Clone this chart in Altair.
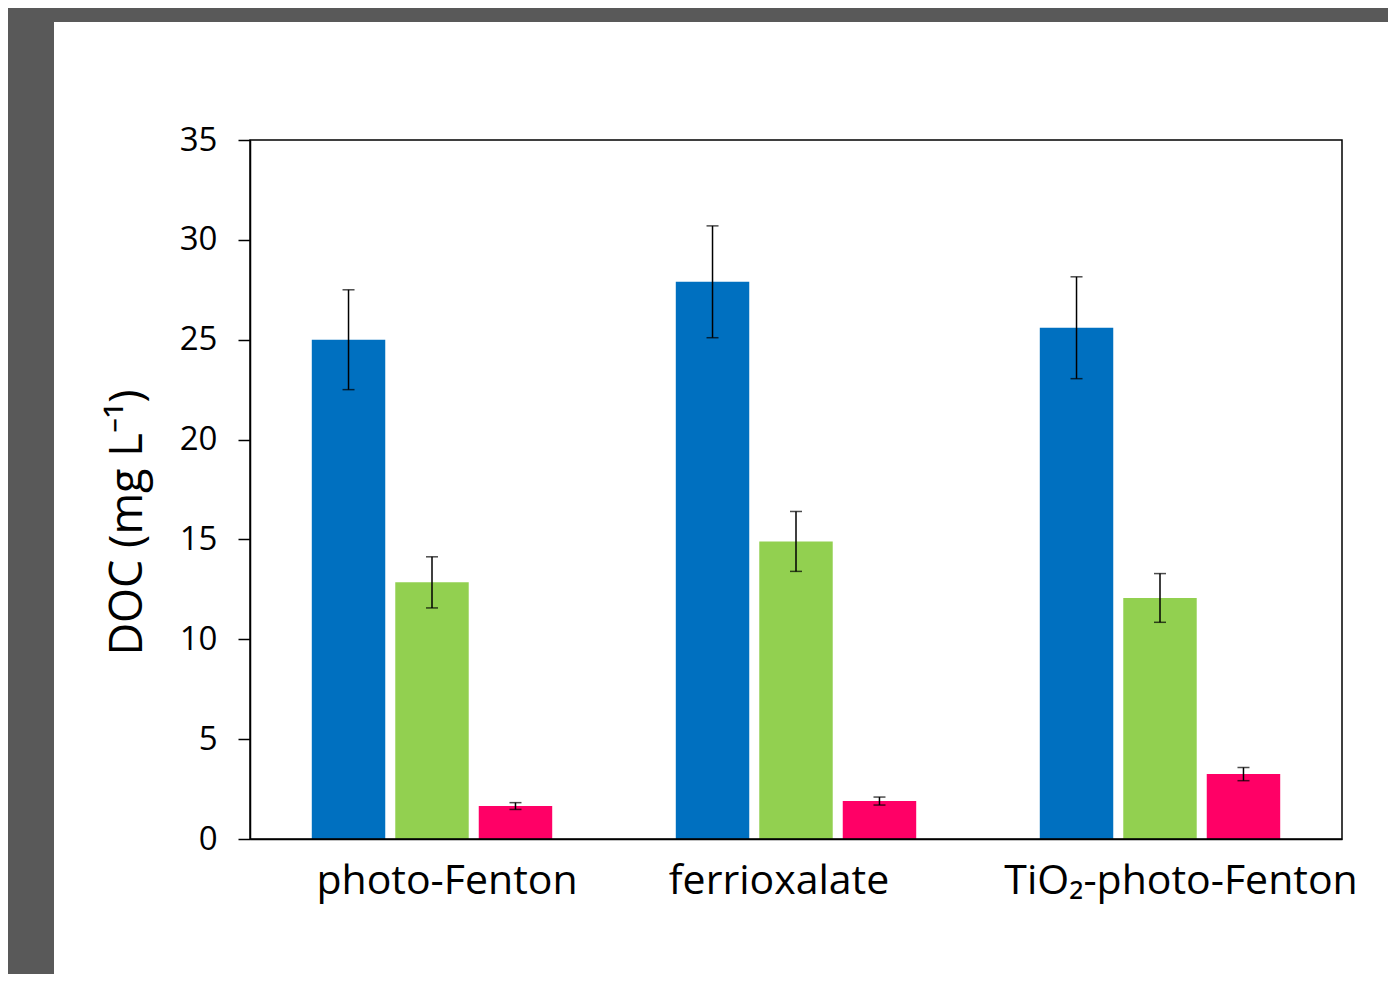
import altair as alt
import pandas as pd

categories = ["photo-Fenton", "ferrioxalate", "TiO₂-photo-Fenton"]
series = ["s1", "s2", "s3"]
values_s1 = [25.0, 27.9, 25.6]
values_s2 = [12.85, 14.9, 12.07]
values_s3 = [1.65, 1.9, 3.25]
err_s1 = [2.5, 2.8, 2.55]
err_s2 = [1.28, 1.5, 1.22]
err_s3 = [0.17, 0.2, 0.33]
colors = ["#0070C0", "#92D050", "#FF0066"]

rows = []
for vals, errs, s in [(values_s1, err_s1, "s1"), (values_s2, err_s2, "s2"), (values_s3, err_s3, "s3")]:
    for c, v, e in zip(categories, vals, errs):
        rows.append({"cat": c, "series": s, "val": v, "lo": v - e, "hi": v + e})
df = pd.DataFrame(rows)

W, H = 1092, 699
FONT = "Open Sans"

x_enc = alt.X(
    "cat:N",
    sort=categories,
    scale=alt.Scale(paddingInner=0.312, paddingOuter=0.156),
    axis=alt.Axis(
        title=None,
        labelFont=FONT,
        labelFontSize=41,
        labelColor="black",
        labelAngle=0,
        labelBaseline="alphabetic",
        labelPadding=54,
        labelLimit=800,
        labelOverlap=False,
        ticks=False,
        tickSize=0,
        domainColor="black",
        domainWidth=1.5,
        zindex=1,
        labelOffset={
            "condition": [
                {"test": "datum.label == 'ferrioxalate'", "value": -17},
                {"test": "datum.label == 'TiO₂-photo-Fenton'", "value": 21},
            ],
            "value": 15,
        },
    ),
)
xoff_enc = alt.XOffset("series:N", sort=series, scale=alt.Scale(paddingInner=0.12, paddingOuter=0.06))
y_scale = alt.Scale(domain=[0, 35], nice=False, zero=True)

one = pd.DataFrame({"a": [0]})
bg = alt.Chart(one).mark_rect(color="white").encode(
    x=alt.value(-196), x2=alt.value(W + 60), y=alt.value(-118), y2=alt.value(H + 150)
)
frame = alt.Chart(one).mark_rect(fill=None, stroke="black", strokeWidth=1.5).encode(
    x=alt.value(0), x2=alt.value(W), y=alt.value(0), y2=alt.value(H)
)

bars = alt.Chart(df).mark_bar().encode(
    x=x_enc,
    xOffset=xoff_enc,
    y=alt.Y(
        "val:Q",
        scale=y_scale,
        axis=alt.Axis(
            title="DOC (mg L⁻¹)",
            values=[0, 5, 10, 15, 20, 25, 30, 35],
            grid=False,
            labelFont=FONT,
            labelFontSize=33,
            labelColor="black",
            labelPadding=21,
            tickSize=12,
            tickColor="black",
            tickWidth=1.5,
            domainColor="black",
            domainWidth=1.5,
            zindex=1,
            titleFont=FONT,
            titleFontSize=45,
            titleFontWeight="normal",
            titleColor="black",
            titleAngle=270,
            titleAlign="center",
            titleBaseline="alphabetic",
            titleX=-109,
            titleY=382,
        ),
    ),
    color=alt.Color("series:N", sort=series, scale=alt.Scale(domain=series, range=colors), legend=None),
)

rules = alt.Chart(df).mark_rule(color="black", strokeWidth=1.5).encode(
    x=alt.X("cat:N", sort=categories),
    xOffset=alt.XOffset("series:N", sort=series),
    y=alt.Y("lo:Q", scale=y_scale),
    y2="hi:Q",
)
caps_hi = alt.Chart(df).mark_tick(color="black", thickness=1.5, size=12).encode(
    x=alt.X("cat:N", sort=categories),
    xOffset=alt.XOffset("series:N", sort=series),
    y=alt.Y("hi:Q", scale=y_scale),
)
caps_lo = alt.Chart(df).mark_tick(color="black", thickness=1.5, size=12).encode(
    x=alt.X("cat:N", sort=categories),
    xOffset=alt.XOffset("series:N", sort=series),
    y=alt.Y("lo:Q", scale=y_scale),
)

chart = (
    alt.layer(bg, bars, rules, caps_hi, caps_lo, frame)
    .properties(
        width=W,
        height=H,
        background="#595959",
        padding={"left": 242, "top": 132, "right": 46, "bottom": 135},
        autosize=alt.AutoSizeParams(type="none"),
    )
    .configure_view(stroke=None, fill=None)
)

chart.save("out.html", embed_options={"renderer": "svg", "actions": False})
